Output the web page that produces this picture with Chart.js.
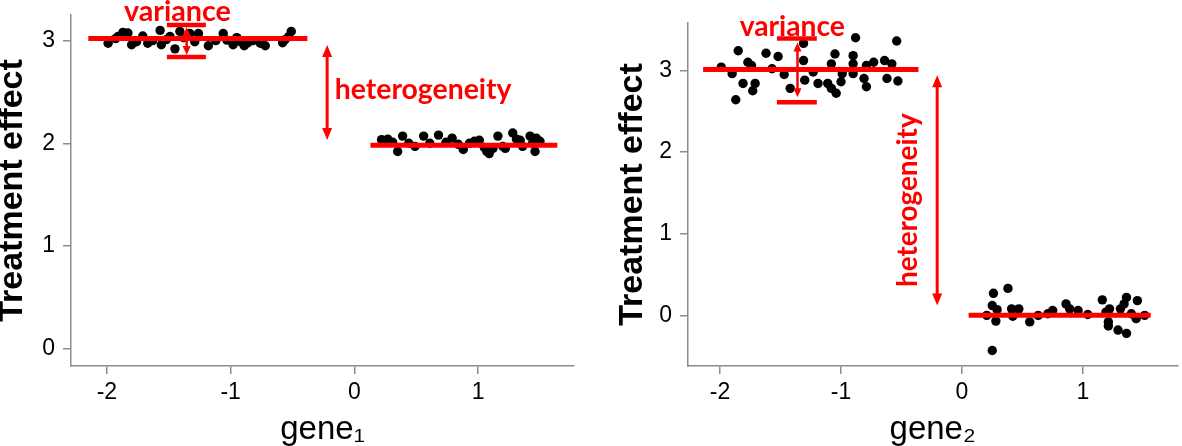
<!DOCTYPE html>
<html>
<head>
<meta charset="utf-8">
<script src="https://cdn.jsdelivr.net/npm/chart.js@4.4.1/dist/chart.umd.min.js"></script>
<style>
  body { margin: 0; background: #fff; }
  #wrap { position: relative; width: 1182px; height: 446px; }
  canvas { position: absolute; top: 0; }
</style>
</head>
<body>
<div id="wrap">
  <canvas id="chart1" width="590" height="446" style="left:0"></canvas>
  <canvas id="chart2" width="592" height="446" style="left:590px"></canvas>
</div>
<script>
// values
const xTicks = [-2, -1, 0, 1];
const yTicks = [0, 1, 2, 3];

const gene1High = [[-1.99,2.975],[-1.93,3.02],[-1.91,3.04],[-1.87,3.08],[-1.83,3.075],[-1.80,2.96],[-1.76,2.99],
  [-1.71,3.045],[-1.67,2.975],[-1.63,3.0],[-1.57,3.10],[-1.56,2.96],[-1.52,3.01],[-1.49,3.04],[-1.45,2.92],
  [-1.41,3.09],[-1.38,3.03],[-1.33,3.07],[-1.29,2.99],[-1.26,3.07],[-1.18,2.95],[-1.12,3.0],[-1.06,3.07],
  [-1.03,3.005],[-0.98,2.96],[-0.95,3.03],[-0.92,2.99],[-0.89,2.95],[-0.86,2.98],[-0.82,3.0],[-0.76,2.975],
  [-0.72,2.95],[-0.58,2.98],[-0.56,3.01],[-0.53,3.04],[-0.51,3.09]];
const gene1Low = [[0.22,2.035],[0.27,2.04],[0.31,2.01],[0.35,1.92],[0.39,2.07],[0.44,2.0],[0.49,1.97],[0.56,2.07],
  [0.61,2.0],[0.68,2.08],[0.74,2.01],[0.79,2.05],[0.84,1.99],[0.88,1.94],[0.93,2.0],[0.97,2.02],[1.01,2.03],
  [1.05,1.96],[1.07,1.92],[1.09,1.90],[1.12,1.95],[1.16,2.07],[1.20,1.97],[1.22,1.95],[1.28,2.10],[1.31,2.04],
  [1.34,2.03],[1.36,1.97],[1.42,2.07],[1.44,2.0],[1.46,1.92],[1.47,2.05],[1.50,2.02]];

const gene2High = [[-1.99,3.04],[-1.90,2.96],[-1.87,2.64],[-1.85,3.24],[-1.81,2.84],[-1.77,3.10],[-1.74,3.06],
  [-1.73,2.75],[-1.71,2.84],[-1.62,3.21],[-1.57,3.02],[-1.52,3.17],[-1.47,2.95],[-1.42,2.78],[-1.31,3.33],
  [-1.31,3.12],[-1.30,2.88],[-1.23,2.98],[-1.19,2.84],[-1.11,2.84],[-1.08,3.08],[-1.05,3.20],[-1.08,2.78],
  [-1.04,2.72],[-1.00,2.86],[-0.99,2.96],[-0.90,3.18],[-0.90,3.08],[-0.88,3.40],[-0.90,2.96],[-0.81,2.90],
  [-0.79,3.06],[-0.79,2.80],[-0.73,3.10],[-0.64,3.12],[-0.62,2.90],[-0.58,3.08],[-0.54,3.36],[-0.53,2.87]];
const gene2Low = [[0.205,0.0],[0.25,-0.43],[0.26,0.27],[0.25,0.12],[0.29,0.07],[0.28,-0.07],[0.38,0.33],[0.41,0.08],
  [0.42,-0.01],[0.47,0.08],[0.56,-0.08],[0.63,0.0],[0.71,0.02],[0.75,0.06],[0.86,0.14],[0.89,0.08],[0.96,0.06],
  [1.04,0.01],[1.16,0.19],[1.19,0.04],[1.21,-0.08],[1.21,-0.13],[1.22,0.08],[1.29,-0.18],[1.31,0.08],[1.34,0.14],
  [1.36,0.22],[1.36,-0.22],[1.40,0.02],[1.44,-0.04],[1.45,0.18],[1.51,0.0]];

// group means and the x span each red bar covers
const means1 = [3.02, 1.98];
const spans1 = [[-2.15, -0.38], [0.13, 1.64]];
const means2 = [3.01, 0.0];
const spans2 = [[-2.14, -0.36], [0.055, 1.56]];

// variance whiskers: x span, top, bottom
const var1 = { x: [-1.515, -1.20], top: 3.153, bottom: 2.84 };
const var2 = { x: [-1.53, -1.20], top: 3.39, bottom: 2.61 };

const RED = '#ff0000';
const AXIS = '#8c8c8c';

const pts = arr => arr.map(p => ({ x: p[0], y: p[1] }));
const seg = (x0, x1, y) => [{ x: x0, y: y }, { x: x1, y: y }];

function redLine(data, w) {
  return { type: 'line', data: data, showLine: true, borderColor: RED, borderWidth: w,
           pointRadius: 0, fill: false, order: 1 };
}
function dots(data) {
  return { data: pts(data), backgroundColor: '#000', borderWidth: 0, pointRadius: 4.7, order: 2 };
}

// arrows and red words, placed in data units
const annotate = {
  id: 'annotate',
  afterDatasetsDraw(chart, args, opts) {
    const { ctx, scales: { x, y } } = chart;
    ctx.save();
    ctx.strokeStyle = RED;
    ctx.fillStyle = RED;
    opts.arrows.forEach(a => {
      const px = x.getPixelForValue(a.x);
      const top = y.getPixelForValue(a.y0);
      const bot = y.getPixelForValue(a.y1);
      ctx.lineWidth = a.lw;
      ctx.beginPath();
      ctx.moveTo(px, top + a.head * 0.8);
      ctx.lineTo(px, bot - a.head * 0.8);
      ctx.stroke();
      ctx.beginPath();
      ctx.moveTo(px, top);
      ctx.lineTo(px - a.hw / 2, top + a.head);
      ctx.lineTo(px + a.hw / 2, top + a.head);
      ctx.closePath();
      ctx.fill();
      ctx.beginPath();
      ctx.moveTo(px, bot);
      ctx.lineTo(px - a.hw / 2, bot - a.head);
      ctx.lineTo(px + a.hw / 2, bot - a.head);
      ctx.closePath();
      ctx.fill();
    });
    opts.labels.forEach(l => {
      ctx.font = 'bold 100px Lato';
      const size = 100 * l.width / ctx.measureText(l.text).width;
      ctx.font = 'bold ' + size.toFixed(1) + 'px Lato';
      ctx.textAlign = 'center';
      ctx.textBaseline = 'middle';
      ctx.save();
      ctx.translate(x.getPixelForValue(l.x), y.getPixelForValue(l.y));
      if (l.rotate) ctx.rotate(-Math.PI / 2);
      ctx.fillText(l.text, 0, 0);
      ctx.restore();
    });
    ctx.restore();
  }
};

function makeChart(id, cfg) {
  const tickFont = { family: 'Liberation Sans', size: 23 };
  const gridOpts = { display: true, drawOnChartArea: false, drawTicks: true, tickLength: 8, color: AXIS, lineWidth: 1.5 };
  return new Chart(document.getElementById(id), {
    type: 'scatter',
    data: {
      datasets: [
        redLine(seg(cfg.spans[0][0], cfg.spans[0][1], cfg.means[0]), 5),
        redLine(seg(cfg.spans[1][0], cfg.spans[1][1], cfg.means[1]), 5),
        redLine(seg(cfg.vari.x[0], cfg.vari.x[1], cfg.vari.top), 4.5),
        redLine(seg(cfg.vari.x[0], cfg.vari.x[1], cfg.vari.bottom), 4.5),
        dots(cfg.high),
        dots(cfg.low)
      ]
    },
    options: {
      responsive: false,
      animation: false,
      events: [],
      layout: { padding: cfg.padding },
      plugins: {
        legend: { display: false },
        tooltip: { enabled: false },
        annotate: { arrows: cfg.arrows, labels: cfg.labels }
      },
      scales: {
        x: {
          type: 'linear', min: cfg.xRange[0], max: cfg.xRange[1],
          afterBuildTicks: s => { s.ticks = xTicks.map(v => ({ value: v })); },
          afterFit: s => { s.height = 80; s.paddingLeft = 0; s.paddingRight = 0; },
          grid: gridOpts,
          border: { color: AXIS, width: 1.5 },
          ticks: { color: '#000', font: tickFont, padding: 5, maxRotation: 0, callback: v => String(v) },
          title: { display: true, text: cfg.xTitle, color: '#000',
                   font: { family: 'Liberation Sans', size: 33, lineHeight: 1 }, padding: { top: 0, bottom: 0 } }
        },
        y: {
          type: 'linear', min: cfg.yRange[0], max: cfg.yRange[1],
          afterBuildTicks: s => { s.ticks = yTicks.map(v => ({ value: v })); },
          afterFit: s => { s.width = cfg.yWidth; s.paddingTop = 0; s.paddingBottom = 0; },
          grid: gridOpts,
          border: { color: AXIS, width: 1.5 },
          ticks: { color: '#000', font: tickFont, padding: 8, callback: v => String(v) },
          title: { display: true, text: 'Treatment effect', color: '#000',
                   font: { family: 'Liberation Sans', size: 34, weight: 'bold', lineHeight: 1 },
                   padding: { top: cfg.yTitlePad, bottom: 0 } }
        }
      }
    },
    plugins: [annotate]
  });
}

makeChart('chart1', {
  high: gene1High, low: gene1Low, means: means1, spans: spans1, vari: var1,
  xRange: [-2.29, 1.775], yRange: [-0.17, 3.25],
  padding: { left: 0, right: 16, top: 15, bottom: 0 }, yWidth: 71, yTitlePad: -4,
  xTitle: 'gene\u2081',
  arrows: [
    { x: -1.355, y0: 3.134, y1: 2.86, lw: 2.5, head: 9, hw: 8 },
    { x: -0.22, y0: 2.958, y1: 2.032, lw: 3, head: 12, hw: 10 }
  ],
  labels: [
    { text: 'variance', x: -1.43, y: 3.28, width: 107 },
    { text: 'heterogeneity', x: 0.556, y: 2.52, width: 177 }
  ]
});

makeChart('chart2', {
  high: gene2High, low: gene2Low, means: means2, spans: spans2, vari: var2,
  xRange: [-2.265, 1.78], yRange: [-0.62, 3.58],
  padding: { left: 0, right: 2, top: 23, bottom: 0 }, yWidth: 98, yTitlePad: 26,
  xTitle: 'gene\u2082',
  arrows: [
    { x: -1.36, y0: 3.34, y1: 2.67, lw: 2.5, head: 9, hw: 8 },
    { x: -0.205, y0: 2.94, y1: 0.12, lw: 3, head: 12, hw: 10 }
  ],
  labels: [
    { text: 'variance', x: -1.403, y: 3.53, width: 105 },
    { text: 'heterogeneity', x: -0.447, y: 1.41, width: 174, rotate: true }
  ]
});
</script>
</body>
</html>
